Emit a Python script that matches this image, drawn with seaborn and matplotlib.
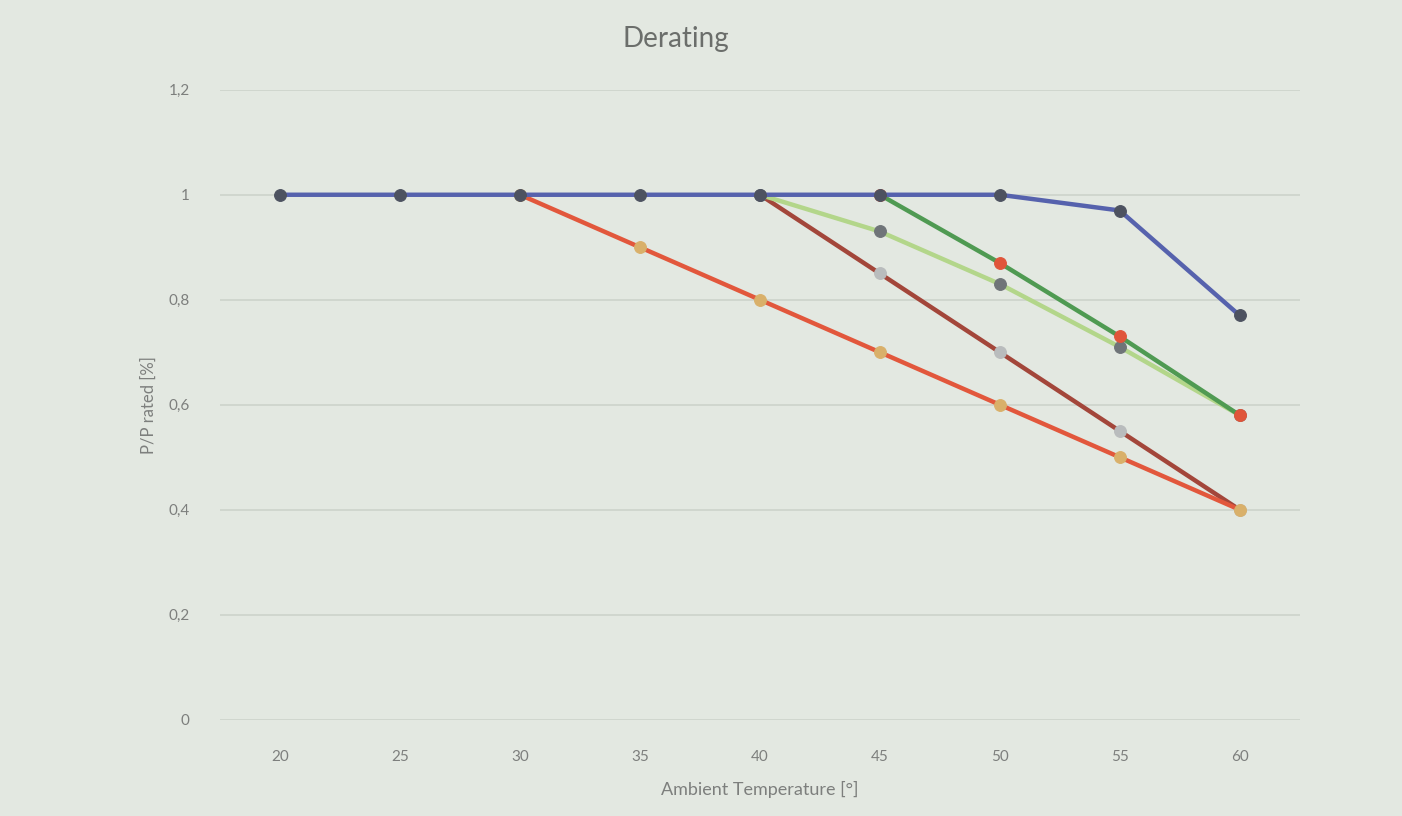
import matplotlib.pyplot as plt
import seaborn as sns
import pandas as pd

# values (corrected against the gridlines)
temps = [20, 25, 30, 35, 40, 45, 50, 55, 60]

rated = [1.0, 1.0, 1.0, 1.0, 1.0, 1.0, 1.0, 0.97, 0.77]

derate_30_x = [30, 35, 40, 45, 50, 55, 60]
derate_30_y = [1.0, 0.9, 0.8, 0.7, 0.6, 0.5, 0.4]

derate_40_x = [40, 45, 50, 55, 60]
derate_40_y = [1.0, 0.85, 0.7, 0.55, 0.4]

soft_40_x = [40, 45, 50, 55, 60]
soft_40_y = [1.0, 0.93, 0.83, 0.71, 0.58]

derate_45_x = [45, 50, 55, 60]
derate_45_y = [1.0, 0.87, 0.73, 0.58]

y_ticks = [0, 0.2, 0.4, 0.6, 0.8, 1.0, 1.2]
y_tick_labels = ["0", "0,2", "0,4", "0,6", "0,8", "1", "1,2"]

bg = "#e3e8e1"
txt = "#7d7f7d"

sns.set_theme(style="white")
plt.rcParams["font.family"] = ["Lato", "DejaVu Sans"]

fig = plt.figure(figsize=(14.02, 8.16), dpi=100, facecolor=bg)
ax = fig.add_axes([0.157, 0.118, 0.77, 0.772])
ax.set_facecolor(bg)

series = [
    # x, y, line colour, marker colour
    (derate_40_x, derate_40_y, "#a3463a", "#b9bcbd"),
    (derate_30_x, derate_30_y, "#e2573c", "#d9b06a"),
    (soft_40_x, soft_40_y, "#b3d68a", "#6f7478"),
    (derate_45_x, derate_45_y, "#4f9a52", "#e0553a"),
    (temps, rated, "#5662ad", "#4d5260"),
]

for xs, ys, lc, mc in series:
    df = pd.DataFrame({"Temp": xs, "P": ys})
    sns.lineplot(
        data=df, x="Temp", y="P", ax=ax, color=lc, linewidth=3.2,
        marker="o", markersize=8.5, markerfacecolor=mc, markeredgecolor=mc,
    )

ax.set_xlim(17.5, 62.5)
ax.set_ylim(0, 1.2)
ax.set_xticks(temps)
ax.set_xticklabels([str(t) for t in temps])
ax.set_yticks(y_ticks)
ax.set_yticklabels(y_tick_labels)
ax.tick_params(axis="both", colors=txt, labelsize=11, length=0)
ax.tick_params(axis="x", pad=22)
ax.tick_params(axis="y", pad=22)
ax.yaxis.grid(True, color="#cdd3cb", linewidth=1.2)
ax.set_axisbelow(True)
for s in ax.spines.values():
    s.set_visible(False)

fig.text(0.482, 0.952, "Derating", fontsize=20, color="#6b6e6b",
         ha="center", va="center")
ax.set_xlabel("Ambient Temperature [°]", fontsize=13, color=txt, labelpad=12)
ax.set_ylabel("P/P rated [%]", fontsize=12, color=txt, labelpad=8)

fig.savefig("out.png", dpi=100, facecolor=bg)
